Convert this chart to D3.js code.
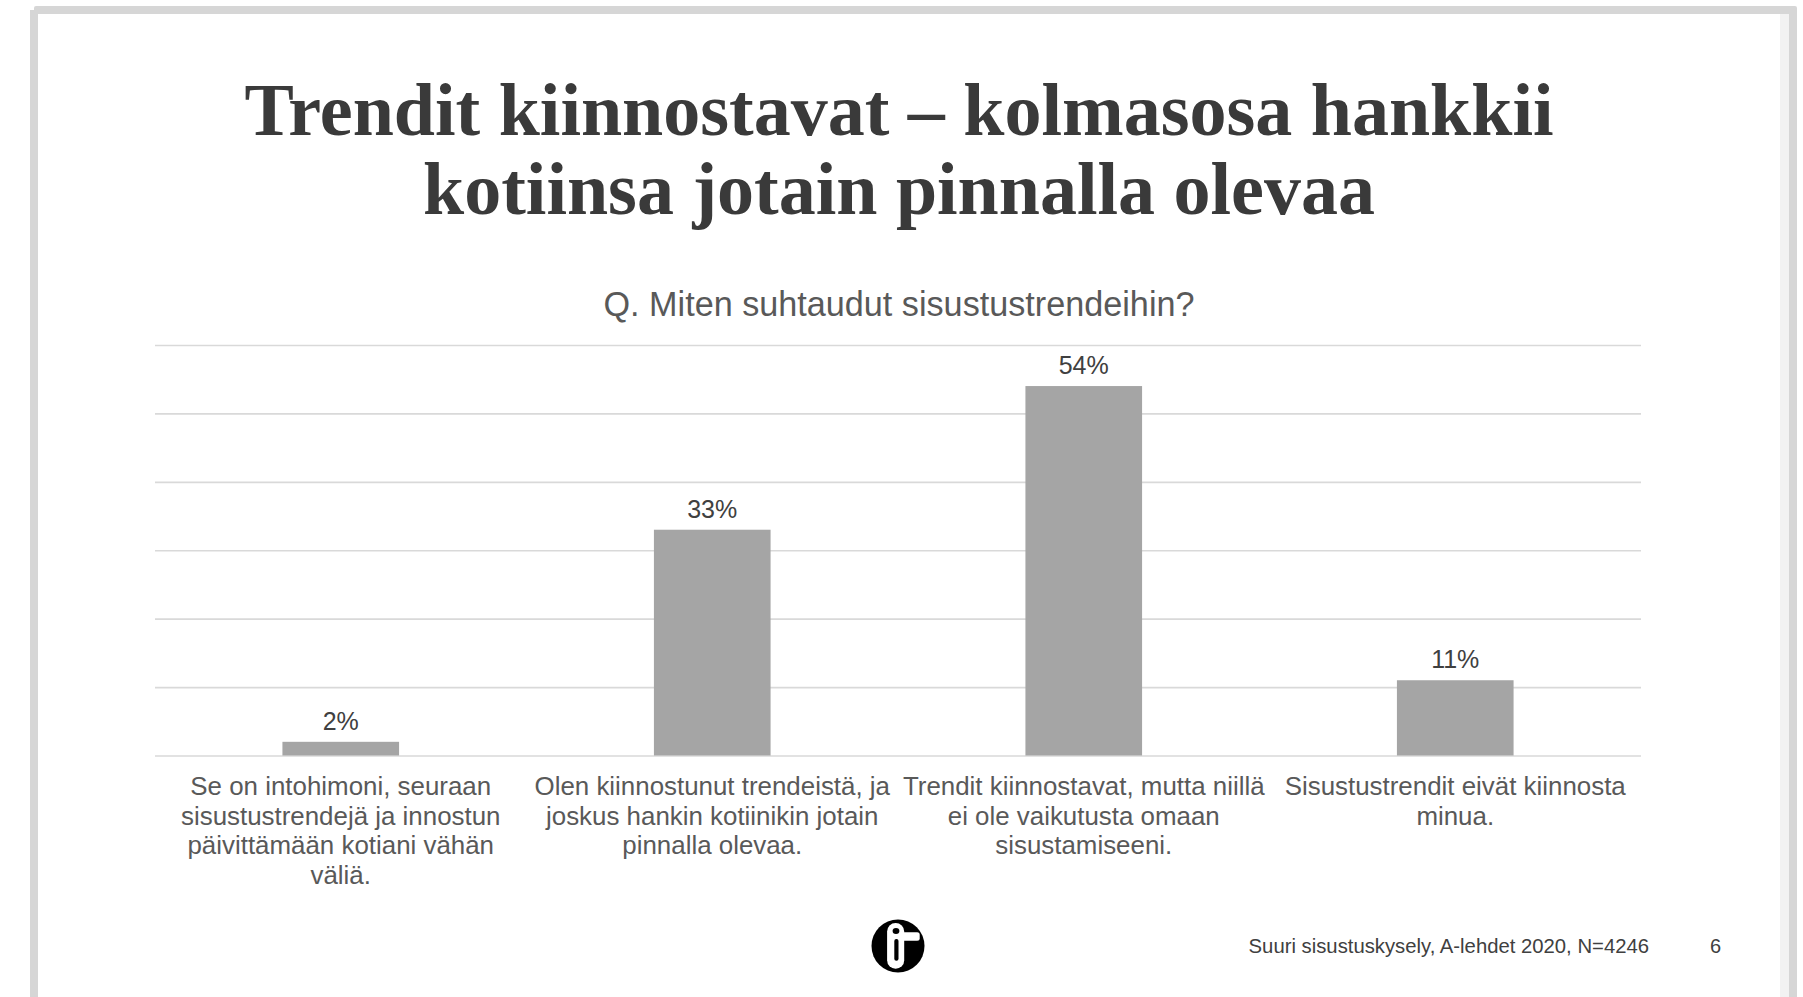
<!DOCTYPE html>
<html>
<head>
<meta charset="utf-8">
<script src="https://cdn.jsdelivr.net/npm/d3@7"></script>
<style>
html,body{margin:0;padding:0;background:#fff;}
svg{display:block;}
</style>
</head>
<body>
<svg id="chart" width="1803" height="997"></svg>
<script>
// ---- data ----
const titleLines = ["Trendit kiinnostavat \u2013 kolmasosa hankkii", "kotiinsa jotain pinnalla olevaa"];
const subtitle = "Q. Miten suhtaudut sisustustrendeihin?";
const categories = ["c1", "c2", "c3", "c4"];
const categoryLines = [
  ["Se on intohimoni, seuraan", "sisustustrendejä ja innostun", "päivittämään kotiani vähän", "väliä."],
  ["Olen kiinnostunut trendeistä, ja", "joskus hankin kotiinikin jotain", "pinnalla olevaa."],
  ["Trendit kiinnostavat, mutta niillä", "ei ole vaikutusta omaan", "sisustamiseeni."],
  ["Sisustustrendit eivät kiinnosta", "minua."]
];
const values = [2, 33, 54, 11];
const yTicks = [0, 10, 20, 30, 40, 50, 60];
const sourceText = "Suuri sisustuskysely, A-lehdet 2020, N=4246";
const pageNumber = "6";

// ---- layout ----
const svg = d3.select("#chart");
const W = 1803, H = 997;
const plot = {left: 155, right: 1641, top: 345, bottom: 755.5};

// frame
svg.append("rect").attr("x", 0).attr("y", 0).attr("width", W).attr("height", H).attr("fill", "#fff");
svg.append("rect").attr("x", 1780).attr("y", 14).attr("width", 10).attr("height", H - 14).attr("fill", "#f2f2f2");
svg.append("rect").attr("x", 1789).attr("y", 8).attr("width", 8).attr("height", H - 8).attr("fill", "#d6d6d6");
svg.append("rect").attr("x", 34).attr("y", 6).attr("width", 1763).attr("height", 8).attr("rx", 2).attr("fill", "#d6d6d6");
svg.append("rect").attr("x", 30).attr("y", 10).attr("width", 8).attr("height", H - 10).attr("fill", "#d6d6d6");

// title
svg.append("g").selectAll("text").data(titleLines).join("text")
  .attr("x", 899).attr("y", (d, i) => 135 + i * 78.5)
  .attr("text-anchor", "middle")
  .attr("font-family", "'Liberation Serif', 'Times New Roman', serif")
  .attr("font-weight", "bold").attr("font-size", 74)
  .attr("fill", "#3a3a3a")
  .text(d => d);

// subtitle
svg.append("text")
  .attr("x", 899).attr("y", 316)
  .attr("text-anchor", "middle")
  .attr("font-family", "'Liberation Sans', Arial, sans-serif")
  .attr("font-size", 34.2).attr("fill", "#595959")
  .text(subtitle);

// scales
const x = d3.scaleBand().domain(categories).range([plot.left, plot.right])
  .paddingInner(0.686).paddingOuter(0.343);
const xc = d3.scaleBand().domain(categories).range([plot.left, plot.right]);
const y = d3.scaleLinear().domain([0, 60]).range([plot.bottom, plot.top]);

// gridlines
const grid = svg.append("g").attr("transform", `translate(${plot.left},0)`)
  .call(d3.axisLeft(y).tickValues(yTicks).tickSize(-(plot.right - plot.left)).tickFormat(""));
grid.select(".domain").remove();
grid.selectAll(".tick line").attr("stroke", "#d9d9d9").attr("stroke-width", 1.6);

// bars
svg.append("g").selectAll("rect").data(values).join("rect")
  .attr("x", (d, i) => x(categories[i]))
  .attr("width", x.bandwidth())
  .attr("y", d => y(d))
  .attr("height", d => y(0) - y(d))
  .attr("fill", "#a5a5a5");

// value labels
svg.append("g").selectAll("text").data(values).join("text")
  .attr("x", (d, i) => x(categories[i]) + x.bandwidth() / 2)
  .attr("y", d => y(d) - 12)
  .attr("text-anchor", "middle")
  .attr("font-family", "'Liberation Sans', Arial, sans-serif")
  .attr("font-size", 25).attr("fill", "#404040")
  .text(d => d + "%");

// category labels
const cg = svg.append("g").selectAll("text").data(categoryLines).join("text")
  .attr("text-anchor", "middle")
  .attr("font-family", "'Liberation Sans', Arial, sans-serif")
  .attr("font-size", 25.9).attr("fill", "#595959");
cg.each(function(lines, i) {
  const cx = xc(categories[i]) + xc.bandwidth() / 2;
  d3.select(this).selectAll("tspan").data(lines).join("tspan")
    .attr("x", cx).attr("y", (d, j) => 795 + j * 29.5)
    .text(d => d);
});

// logo
const logo = svg.append("g").attr("transform", "translate(898,946)");
logo.append("circle").attr("r", 26.5).attr("fill", "#000");
logo.append("rect").attr("x", -10.9).attr("y", -23).attr("width", 17.1).attr("height", 45.8).attr("rx", 8.5).attr("fill", "#fff");
logo.append("rect").attr("x", 1.6).attr("y", -13.8).attr("width", 20.1).attr("height", 8.5).attr("rx", 2.5).attr("fill", "#fff");
logo.append("rect").attr("x", -3.7).attr("y", -6.9).attr("width", 4.2).attr("height", 21.7).attr("rx", 2).attr("fill", "#000");
logo.append("ellipse").attr("cx", -2).attr("cy", -15).attr("rx", 3.4).attr("ry", 3).attr("fill", "#000");

// footer
svg.append("text")
  .attr("x", 1649).attr("y", 953)
  .attr("text-anchor", "end")
  .attr("font-family", "'Liberation Sans', Arial, sans-serif")
  .attr("font-size", 20.3).attr("fill", "#404040")
  .text(sourceText);
svg.append("text")
  .attr("x", 1710).attr("y", 953)
  .attr("font-family", "'Liberation Sans', Arial, sans-serif")
  .attr("font-size", 20).attr("fill", "#404040")
  .text(pageNumber);
</script>
</body>
</html>
